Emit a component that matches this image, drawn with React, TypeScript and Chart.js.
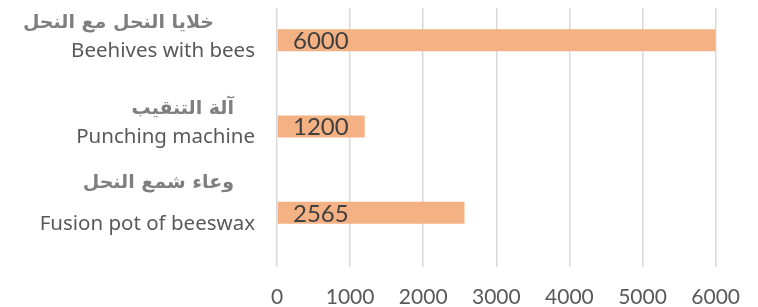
import React, { useEffect, useRef } from "react";
import { Chart, registerables } from "chart.js";

Chart.register(...registerables);

const CATEGORIES_AR: string[] = ["خلايا النحل مع النحل", "آلة التنقيب", "وعاء شمع النحل"];
const CATEGORIES_EN: string[] = ["Beehives with bees", "Punching machine", "Fusion pot of beeswax"];
// blank spacer lines between Arabic and English label lines
const LABEL_SPACERS: number[] = [0, 0, 1];
const VALUES: number[] = [6000, 1200, 2565];
const EMPTY_SERIES: (number | null)[] = [null, null, null];
const X_TICKS: number[] = [0, 1000, 2000, 3000, 4000, 5000, 6000];

const FONT = "'Noto Sans', 'Liberation Sans', sans-serif";
const NUM_FONT = "Lato, 'Liberation Sans', sans-serif";

const labelPlugin = {
  id: "customLabels",
  afterDatasetsDraw(chart: any) {
    const ctx = chart.ctx;
    const y = chart.scales.y;
    const x = chart.scales.x;
    ctx.save();
    CATEGORIES_EN.forEach((en, i) => {
      const cy = y.getPixelForValue(i);
      ctx.textAlign = "right";
      ctx.textBaseline = "middle";
      ctx.fillStyle = "#595959";
      ctx.font = `20.5px ${FONT}`;
      ctx.fillText(en, 255, cy);
      ctx.font = `bold 19px 'DejaVu Sans', sans-serif`;
      ctx.fillStyle = "#7f7f7f";
      const ar = CATEGORIES_AR[i];
      const off = 28 + LABEL_SPACERS[i] * 13;
      ctx.fillText(ar, 254 - (i === 0 ? 40 : 20), cy - off);
    });
    const meta = chart.getDatasetMeta(0);
    const base = x.getPixelForValue(0);
    ctx.font = `24px ${NUM_FONT}`;
    ctx.fillStyle = "#404040";
    ctx.textAlign = "left";
    ctx.textBaseline = "middle";
    meta.data.forEach((bar: any, i: number) => {
      ctx.fillText(String(VALUES[i]), base + 16, bar.y + 1);
    });
    ctx.restore();
  },
};

export default function App() {
  const ref = useRef<HTMLCanvasElement>(null);
  useEffect(() => {
    if (!ref.current) return;
    const chart = new Chart(ref.current, {
      type: "bar",
      data: {
        labels: CATEGORIES_EN,
        datasets: [
          {
            data: VALUES,
            backgroundColor: "#F4B183",
            borderWidth: 0,
            categoryPercentage: 0.51,
            barPercentage: 1,
          },
          {
            data: EMPTY_SERIES as any,
            backgroundColor: "#F4B183",
            categoryPercentage: 0.51,
            barPercentage: 1,
          },
        ],
      },
      options: {
        indexAxis: "y",
        animation: false,
        responsive: false,
        layout: { padding: { left: 277, right: 39, top: 8, bottom: 0 } },
        plugins: { legend: { display: false }, tooltip: { enabled: false } },
        scales: {
          x: {
            min: 0,
            max: 6000,
            afterBuildTicks: (s: any) => {
              s.ticks = X_TICKS.map((v) => ({ value: v }));
            },
            afterFit: (s: any) => {
              s.height = 40;
            },
            grid: { color: "#d9d9d9", lineWidth: 1.5, drawTicks: false },
            border: { display: false },
            ticks: {
              color: "#595959",
              font: { family: NUM_FONT, size: 21 },
              padding: 18,
              maxRotation: 0,
              callback: (v: any) => String(v),
            },
          },
          y: {
            display: false,
          },
        },
      },
      plugins: [labelPlugin],
    });
    return () => chart.destroy();
  }, []);
  return (
    <div style={{ position: "fixed", left: 0, top: 0, width: 758, height: 307, background: "#fff" }}>
      <canvas ref={ref} width={758} height={307} style={{ width: 758, height: 307 }} />
    </div>
  );
}
